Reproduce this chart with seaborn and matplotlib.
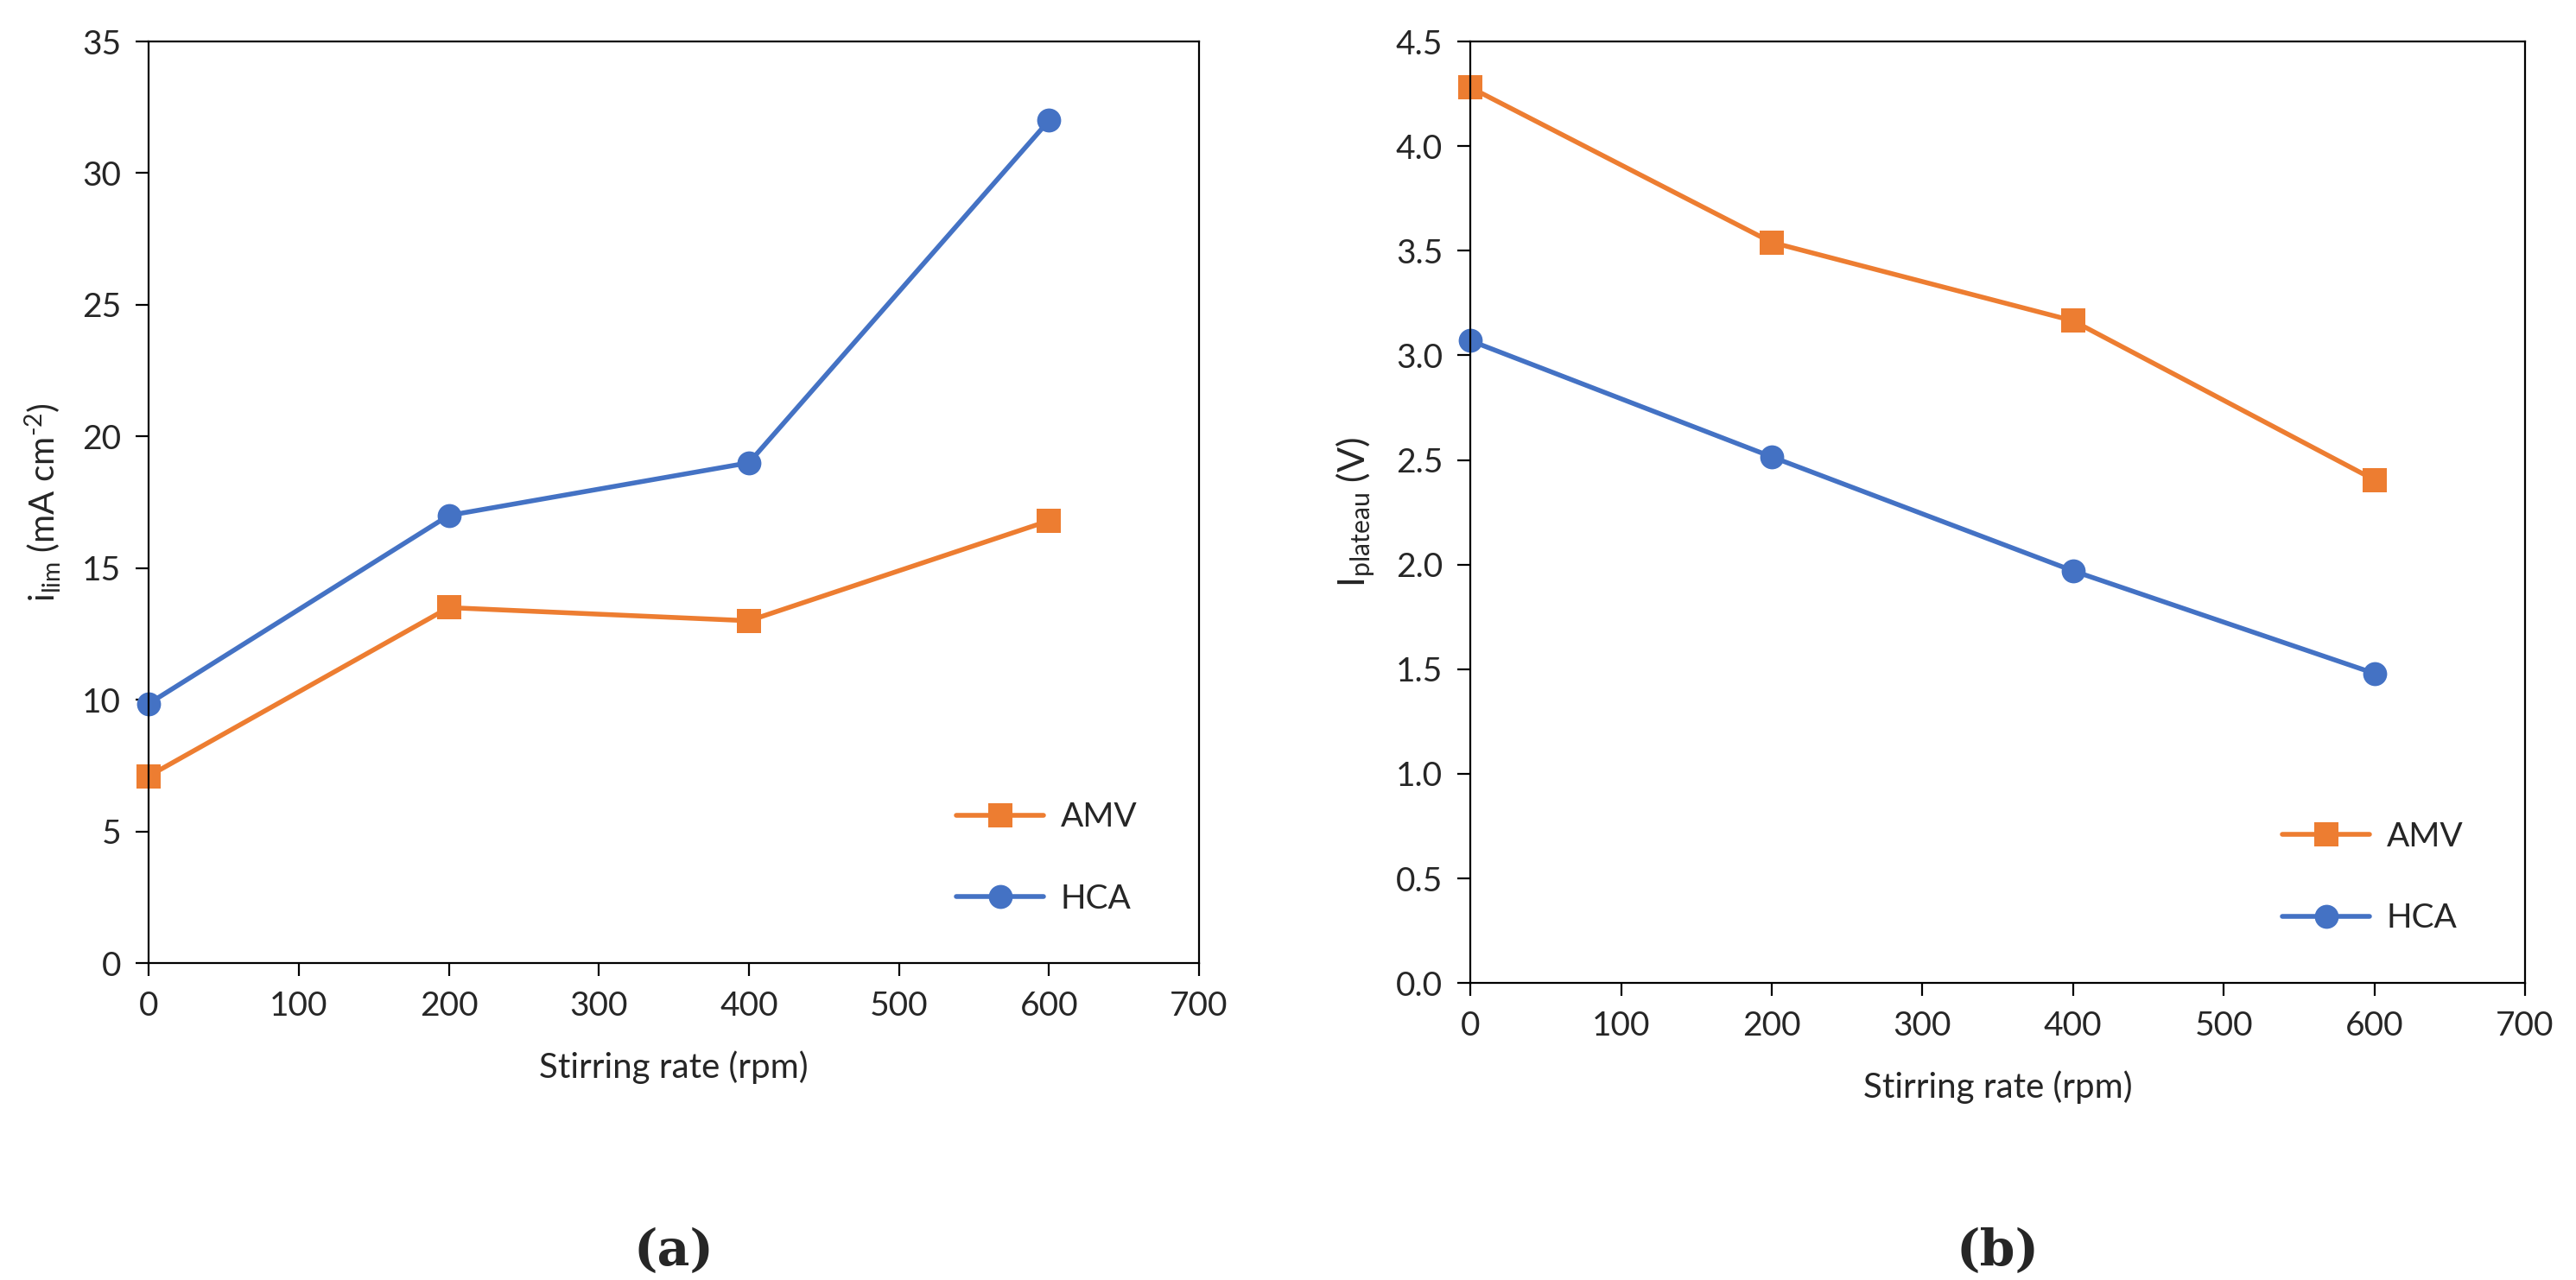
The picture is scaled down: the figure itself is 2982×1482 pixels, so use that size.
import numpy as np
import pandas as pd
import seaborn as sns
import matplotlib.pyplot as plt

# datos
stirring_rate = [0, 200, 400, 600]
series = ['AMV', 'HCA']
ilim_amv = [7.1, 13.5, 13.0, 16.8]
ilim_hca = [9.85, 17.0, 19.0, 32.0]
iplat_amv = [4.28, 3.54, 3.165, 2.405]
iplat_hca = [3.07, 2.515, 1.97, 1.48]

colores = {'AMV': '#ED7D31', 'HCA': '#4472C4'}
marcadores = {'AMV': 's', 'HCA': 'o'}


def tabla_larga(amv, hca):
    return pd.DataFrame({
        'rate': stirring_rate * 2,
        'valor': amv + hca,
        'serie': ['AMV'] * len(amv) + ['HCA'] * len(hca),
    })


sns.set_theme(style='ticks')
plt.rcParams['font.family'] = ['Lato', 'DejaVu Sans']
plt.rcParams['mathtext.fontset'] = 'custom'
plt.rcParams['mathtext.rm'] = 'Lato'
plt.rcParams['mathtext.it'] = 'Lato'

fig = plt.figure(figsize=(14.91, 7.41), dpi=200)
ax_a = fig.add_axes([0.0577, 0.2476, 0.4078, 0.72])
ax_b = fig.add_axes([0.5708, 0.2320, 0.4094, 0.7356])

paneles = [
    (ax_a, tabla_larga(ilim_amv, ilim_hca), (0, 35), np.arange(0, 36, 5), '{:.0f}',
     'i$_{\\mathregular{lim}}$ (mA cm$^{\\mathregular{\u20102}}$)', 14.5, '(a)'),
    (ax_b, tabla_larga(iplat_amv, iplat_hca), (0, 4.5), np.arange(0, 4.51, 0.5), '{:.1f}',
     r'I$_{\mathregular{plateau}}$ (V)', 15.5, '(b)'),
]

for ax, df, ylim, yticks, fmt, ylabel, ysize, letra in paneles:
    sns.lineplot(ax=ax, data=df, x='rate', y='valor', hue='serie', style='serie',
                 hue_order=series, style_order=series, palette=colores,
                 markers=marcadores, dashes=False, linewidth=2.0,
                 markersize=10, markeredgewidth=0)
    ax.set_xlim(0, 700)
    ax.set_ylim(*ylim)
    ax.set_xticks(np.arange(0, 701, 100))
    ax.set_yticks(yticks)
    ax.set_yticklabels([fmt.format(v) for v in yticks])
    ax.tick_params(labelsize=14, length=5.5, width=0.8, color='black', pad=6)
    for s in ax.spines.values():
        s.set_visible(True)
        s.set_color('black')
        s.set_linewidth(0.8)
    ax.set_xlabel('Stirring rate (rpm)', fontsize=14.5, labelpad=12)
    ax.set_ylabel(ylabel, fontsize=ysize, labelpad=8)
    for c in ax.collections:
        c.set_clip_on(False)
    for l in ax.lines:
        l.set_clip_on(False)

    h, lab = ax.get_legend_handles_labels()
    ax.legend(h, lab, loc='lower right', bbox_to_anchor=(0.97, 0.02),
              frameon=False, fontsize=14, labelspacing=1.5,
              handlelength=2.6, handletextpad=0.5)

    pos = ax.get_position()
    fig.text((pos.x0 + pos.x1) / 2, 0.022, letra, ha='center', va='center',
             fontsize=21, fontweight='bold', family=['DejaVu Serif'])

fig.savefig('out.png', dpi=200)
